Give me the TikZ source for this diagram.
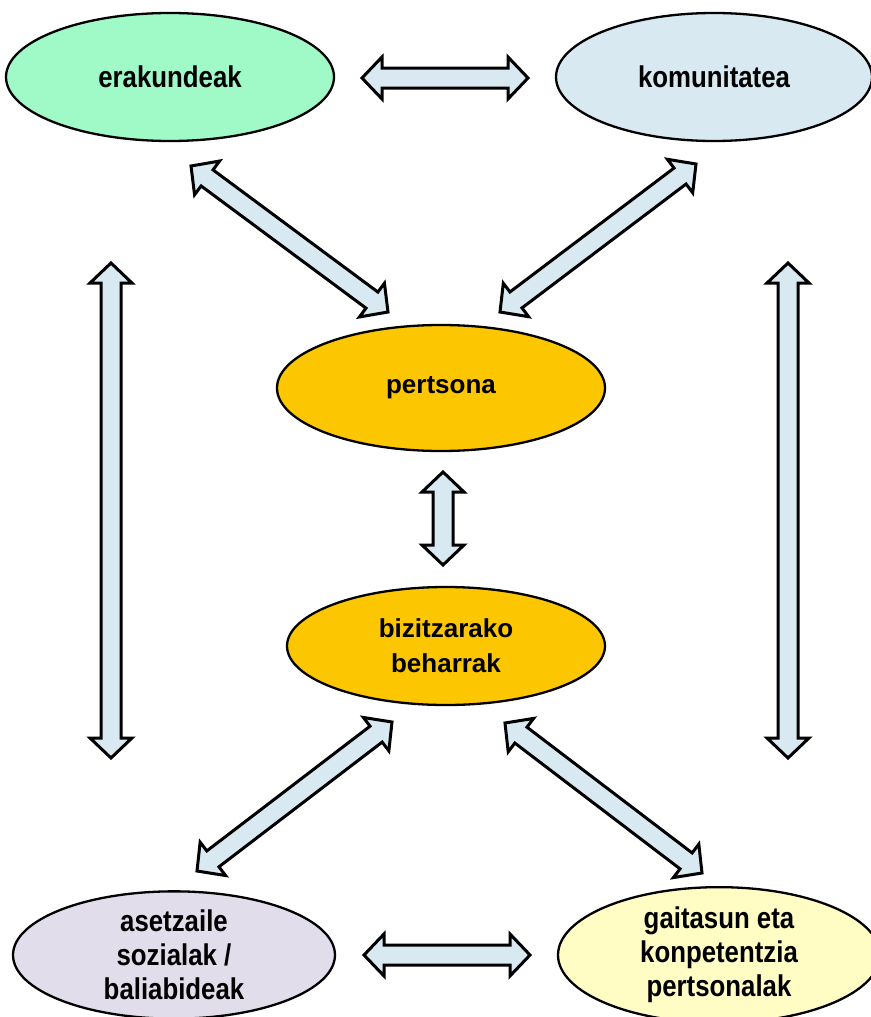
\documentclass[tikz,border=0pt]{standalone}
\usepackage{fontspec}
\setmainfont{Liberation Sans}
\newfontfamily\narrowf[FakeStretch=0.86]{Liberation Sans}
\usetikzlibrary{shapes.geometric,calc}
\definecolor{mint}{RGB}{160,250,200}
\definecolor{paleblue}{RGB}{216,233,242}
\definecolor{gold}{RGB}{252,198,0}
\definecolor{lavender}{RGB}{226,221,235}
\definecolor{paleyellow}{RGB}{255,253,196}
\def\AHl{20pt}
\def\AHw{21pt}
\def\ASw{10pt}
\newcommand\fatarrow[2]{%
  \draw[fatarr] let \p1=(#1), \p2=(#2), \n1={atan2(\y2-\y1,\x2-\x1)} in
    (\p1) -- ($(\p1)+(\n1:\AHl)+(\n1+90:\AHw)$) -- ($(\p1)+(\n1:\AHl)+(\n1+90:\ASw)$)
    -- ($(\p2)+(\n1:-\AHl)+(\n1+90:\ASw)$) -- ($(\p2)+(\n1:-\AHl)+(\n1+90:\AHw)$)
    -- (\p2) -- ($(\p2)+(\n1:-\AHl)+(\n1-90:\AHw)$) -- ($(\p2)+(\n1:-\AHl)+(\n1-90:\ASw)$)
    -- ($(\p1)+(\n1:\AHl)+(\n1-90:\ASw)$) -- ($(\p1)+(\n1:\AHl)+(\n1-90:\AHw)$) -- cycle;}
\tikzset{
  ell/.style={ellipse, draw=black, line width=2.3pt, inner sep=0pt, align=center},
  outerf/.style={font=\narrowf\bfseries\fontsize{30}{34}\selectfont},
  innerf/.style={font=\bfseries\fontsize{26}{35}\selectfont},
  fatarr/.style={draw=black, fill=paleblue, line width=3pt, line join=miter}
}
\begin{document}
\begin{tikzpicture}[x=1pt,y=-1pt]
\useasboundingbox (0,0) rectangle (870,1017);
\node[ell, outerf, fill=mint, minimum width=328pt, minimum height=128pt] (erk) at (170,77) {erakundeak};
\node[ell, outerf, fill=paleblue, minimum width=316pt, minimum height=128pt] (kom) at (714,77) {komunitatea};
\node[ell, innerf, fill=gold, minimum width=328pt, minimum height=126pt] (per) at (441,388) {pertsona};
\node[ell, innerf, fill=gold, minimum width=318pt, minimum height=118pt] (biz) at (446,646) {bizitzarako\\beharrak};
\node[ell, outerf, fill=lavender, minimum width=322pt, minimum height=122pt] (ase) at (174,955) {asetzaile\\sozialak /\\baliabideak};
\node[ell, outerf, fill=paleyellow, minimum width=322pt, minimum height=122pt] (gai) at (719,955) {gaitasun eta\\konpetentzia\\pertsonalak};

\coordinate (t1) at (362,78);  \coordinate (t2) at (528,78);
\coordinate (l1) at (191,166); \coordinate (l2) at (388,312);
\coordinate (r1) at (696,164); \coordinate (r2) at (500,312);
\coordinate (m1) at (443,472); \coordinate (m2) at (443,565);
\coordinate (vl1) at (111,263); \coordinate (vl2) at (111,758);
\coordinate (vr1) at (788,263); \coordinate (vr2) at (788,758);
\coordinate (bl1) at (392,722); \coordinate (bl2) at (197,871);
\coordinate (br1) at (505,723); \coordinate (br2) at (702,873);
\coordinate (b1) at (364,955);  \coordinate (b2) at (530,955);

\fatarrow{t1}{t2}
\fatarrow{l1}{l2}
\fatarrow{r1}{r2}
\fatarrow{m1}{m2}
\fatarrow{vl1}{vl2}
\fatarrow{vr1}{vr2}
\fatarrow{bl1}{bl2}
\fatarrow{br1}{br2}
\fatarrow{b1}{b2}
\end{tikzpicture}
\end{document}
